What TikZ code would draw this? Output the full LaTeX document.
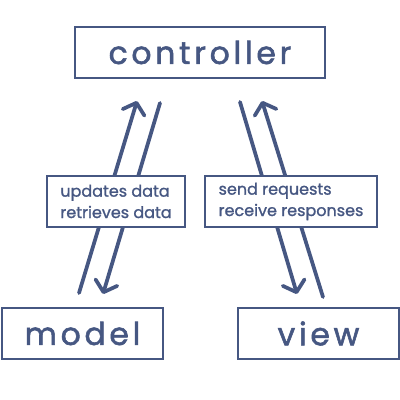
\documentclass[tikz,border=0pt]{standalone}
\usepackage{fontspec}
\setmainfont{Poppins}[FakeBold=1.2]
\newfontfamily\titlefont{Poppins}[LetterSpace=12, FakeBold=1.8]
\usepackage{tikz}
\usetikzlibrary{arrows.meta}
\definecolor{mvcblue}{RGB}{70,87,130}

\begin{document}
\begin{tikzpicture}[
        x=0.75pt, y=-0.75pt,
        part/.style={rectangle, draw=mvcblue, line width=1.5pt, text=mvcblue,
            font=\titlefont\fontsize{23.5}{26}\selectfont, minimum height=38pt, inner sep=0pt},
        note/.style={rectangle, draw=mvcblue, fill=white, line width=1.3pt, text=mvcblue,
            font=\fontsize{12}{16}\selectfont, align=left, minimum height=38pt, inner sep=0pt},
        flow/.style={draw=mvcblue, line width=2.8pt, line cap=round,
            -{Straight Barb[length=7.5pt, width=17pt, line cap=round, line join=round]}}
    ]
        \useasboundingbox[fill=white] (0,0) rectangle (400,400);

        % boxes
        \node[part, minimum width=187.5pt] (controller) at (200,52.5) {controller};
        \node[part, minimum width=120.5pt] (model) at (82.5,333.5) {model};
        \node[part, minimum width=120.5pt] (view) at (318.5,333.5) {view};

        % arrow ends
        \coordinate (m-up) at (79,293);
        \coordinate (c-ml) at (137,101);
        \coordinate (c-mr) at (160,103);
        \coordinate (m-down) at (103,294);
        \coordinate (c-vl) at (240,102);
        \coordinate (v-down) at (297,294);
        \coordinate (v-up) at (323,297);
        \coordinate (c-vr) at (262,101);

        \draw[flow] (m-up) -- (c-ml);
        \draw[flow] (c-mr) -- (m-down);
        \draw[flow] (c-vl) -- (v-down);
        \draw[flow] (v-up) -- (c-vr);

        % labels
        \node[note, minimum width=103.5pt] (data) at (116,201.5) {updates data\\retrieves data};
        \node[note, minimum width=129pt] (requests) at (291,201.5) {send requests\\receive responses};
    \end{tikzpicture}
\end{document}
